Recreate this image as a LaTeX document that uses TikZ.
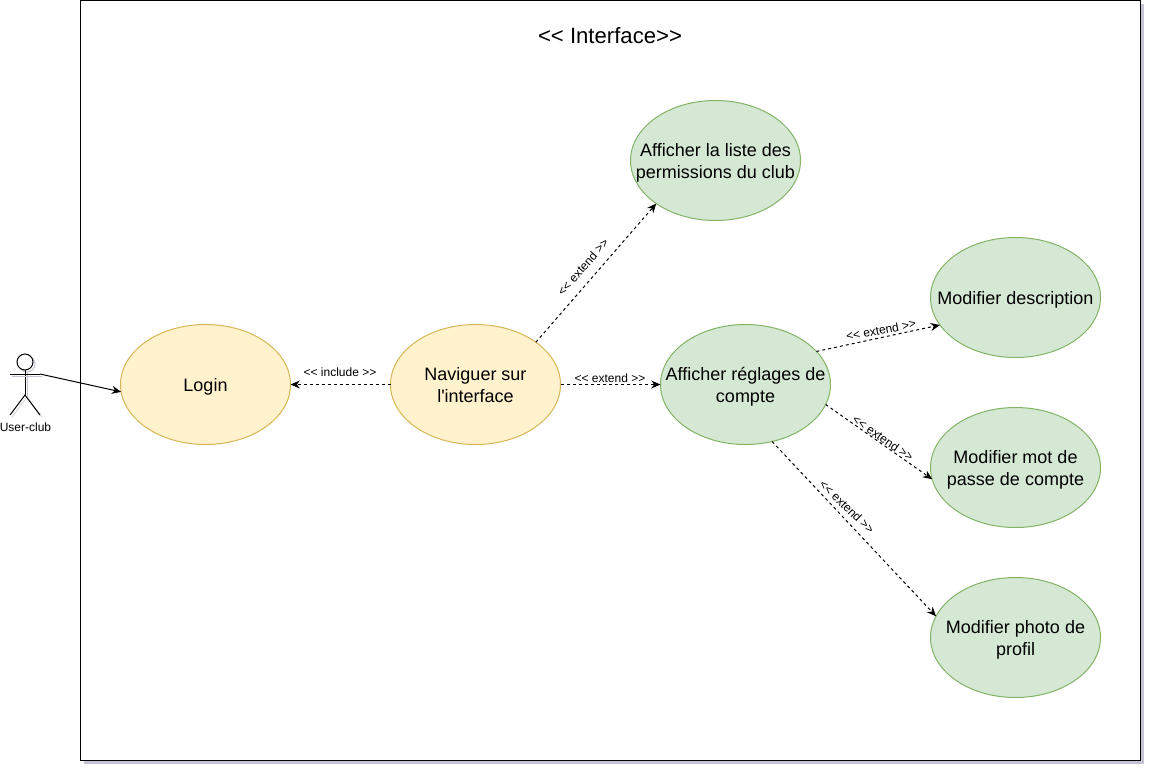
\documentclass[tikz,border=0pt]{standalone}
\usepackage{fontspec}
\setmainfont{Liberation Sans}
\newfontfamily\ucfont{Liberation Sans}
\usepackage{xcolor}
\usetikzlibrary{arrows.meta, positioning, shapes.geometric, shadows}
\definecolor{ucyellow}{HTML}{FFF2CC}
\definecolor{ucyellowline}{HTML}{D6B656}
\definecolor{ucgreen}{HTML}{D5E8D4}
\definecolor{ucgreenline}{HTML}{82B366}
\definecolor{ucshadow}{HTML}{C4C4D2}

\begin{document}
\begin{tikzpicture}[
  x=0.75pt, y=-0.75pt,
  usecase/.style={ellipse, draw=#1line, fill=#1, line width=0.75pt, minimum width=127.5pt,
    minimum height=90pt, inner xsep=-20pt, inner ysep=-8pt, outer sep=0pt, align=center,
    font=\ucfont\fontsize{13.5}{16.5}\selectfont, text height=12.8pt, text depth=3pt},
  twolines/.style={text height=30pt},
  relation/.style={-{Stealth[length=7pt,width=6pt]}, dashed, dash pattern=on 2.25pt off 2.25pt, line width=0.75pt},
  stereotype/.style={font=\fontsize{9}{11}\selectfont, inner sep=0pt},
  limb/.style={line width=0.75pt, preaction={draw=ucshadow, transform canvas={xshift=1.5pt, yshift=-1.5pt}}},
]
  \useasboundingbox (0,0) rectangle (1152,772);

  \node[rectangle, draw=black, fill=white, line width=0.75pt, minimum width=795pt, minimum height=570pt,
    outer sep=0pt, drop shadow={shadow xshift=2.25pt, shadow yshift=-2.25pt, fill=ucshadow, opacity=1}] (frame) at (610.5,380.5) {};
  \node[font=\fontsize{16.6}{20}\selectfont, inner sep=0pt] (title) at (610,36) {<{}< Interface>{}>};

  \node[usecase=ucyellow] (login) at (205.5,384.5) {Login};
  \node[usecase=ucyellow, twolines] (browse) at (475.5,384.5) {Naviguer sur\\l'interface};
  \node[usecase=ucgreen, twolines] (settings) at (745.5,384.5) {Afficher réglages de\\compte};
  \node[usecase=ucgreen, twolines] (permissions) at (715.5,160.5) {Afficher la liste des\\permissions du club};
  \node[usecase=ucgreen] (description) at (1015.5,297.5) {Modifier description};
  \node[usecase=ucgreen, twolines] (password) at (1015.5,467.5) {Modifier mot de\\passe de compte};
  \node[usecase=ucgreen, twolines] (photo) at (1015.5,637.5) {Modifier photo de\\profil};

  % actor
  \coordinate (neck) at (25,374);
  \coordinate (armleft) at (10,374);
  \coordinate (armright) at (40,374);
  \coordinate (hip) at (25,395);
  \coordinate (footleft) at (10,415);
  \coordinate (footright) at (40,415);
  \node[circle, draw=black, fill=white, limb, minimum size=12pt, inner sep=0pt, outer sep=0pt] (head) at (25,362) {};
  \draw[limb] (head.south) -- (hip);
  \draw[limb] (armleft) -- (armright);
  \draw[limb] (footleft) -- (hip) -- (footright);
  \node[stereotype] (actor) at (25.5,427) {User-club};

  \draw[-{Stealth[length=7pt,width=6pt]}, line width=0.75pt] (armright) -- (login.185.5);

  \draw[relation] (browse.west) -- (login.east);
  \draw[relation] (browse.east) -- (settings.west);
  \draw[relation] (browse.35) -- (permissions.216);
  \draw[relation] (settings.25.9) -- (description.200.5);
  \draw[relation] (settings.-14.5) -- (password.188.7);
  \draw[relation] (settings.-65.9) -- (photo.165.5);

  \node[stereotype] (lbinclude) at (340,372) {<{}< include >{}>};
  \node[stereotype] (lbsettings) at (610,378) {<{}< extend >{}>};
  \node[stereotype, rotate=49] (lbpermissions) at (583,267) {<{}< extend >{}>};
  \node[stereotype, rotate=11] (lbdescription) at (881,330) {<{}< extend >{}>};
  \node[stereotype, rotate=-35] (lbpassword) at (883,438) {<{}< extend >{}>};
  \node[stereotype, rotate=-44] (lbphoto) at (847,507) {<{}< extend >{}>};
\end{tikzpicture}
\end{document}
